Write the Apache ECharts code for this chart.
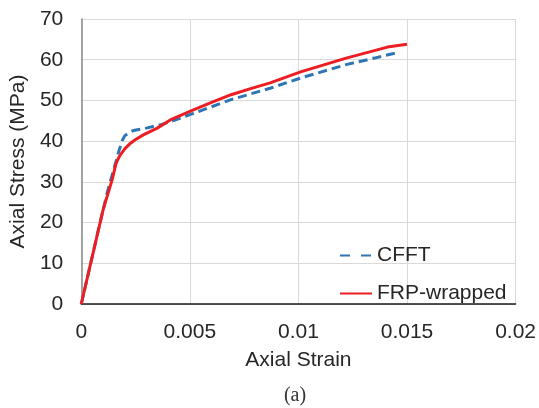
<!DOCTYPE html>
<html>
<head>
<meta charset="utf-8">
<script src="https://cdn.jsdelivr.net/npm/echarts@6/dist/echarts.min.js"></script>
<style>html,body{margin:0;padding:0;background:#fff}#c{width:539px;height:408px}</style>
</head>
<body>
<div id="c"></div>
<script>
const xTicks = [0, 0.005, 0.01, 0.015, 0.02];
const yTicks = [0, 10, 20, 30, 40, 50, 60, 70];
const seriesNames = ['CFFT', 'FRP-wrapped'];
const cfftStrain = [0, 0.0004, 0.0008, 0.0012, 0.0016, 0.0017, 0.0018, 0.0019, 0.0020, 0.0022, 0.0024, 0.0030, 0.0037, 0.0041, 0.0050, 0.0069, 0.0087, 0.0101, 0.0122, 0.0135, 0.0146];
const cfftStress = [0, 9.2, 18.5, 27.5, 35, 37.0, 38.7, 40.3, 41.3, 42.1, 42.6, 43.2, 44.1, 44.8, 46.5, 50.2, 53.0, 55.5, 58.8, 60.4, 61.8];
const frpStrain = [0, 0.0005, 0.0010, 0.00142, 0.0016, 0.0017, 0.00181, 0.0020, 0.00227, 0.0025, 0.00288, 0.0035, 0.0041, 0.0050, 0.0060, 0.0069, 0.0078, 0.0087, 0.0101, 0.0122, 0.0141, 0.0150];
const frpStress = [0, 11.5, 23, 30.5, 34.5, 35.7, 36.7, 38.1, 39.5, 40.4, 41.6, 43.2, 45.2, 47.3, 49.5, 51.4, 52.9, 54.3, 57.0, 60.4, 63.1, 63.8];

const pair = (xs, ys) => xs.map((x, i) => [x, ys[i]]);
const font = 'Liberation Sans, Arial, sans-serif';
const chart = echarts.init(document.getElementById('c'), null, {renderer: 'canvas'});
chart.setOption({
  animation: false,
  backgroundColor: '#fff',
  grid: {left: 81, right: 23, top: 19, bottom: 104},
  legend: {
    orient: 'vertical', left: 334, top: 240, itemWidth: 32, itemHeight: 14, itemGap: 17,
    data: [{name: seriesNames[0], lineStyle: {type: [10, 11]}}, {name: seriesNames[1]}],
    itemStyle: {color: 'transparent', borderWidth: 0, opacity: 0},
    textStyle: {fontFamily: font, fontSize: 21, color: '#262626'}
  },
  xAxis: {
    type: 'value', min: xTicks[0], max: xTicks[xTicks.length - 1], interval: 0.005,
    name: 'Axial Strain', nameLocation: 'middle', nameGap: 46,
    nameTextStyle: {fontFamily: font, fontSize: 21, color: '#262626'},
    axisLine: {lineStyle: {color: '#1a1a1a', width: 1.5}},
    axisTick: {show: false},
    axisLabel: {fontFamily: font, fontSize: 21, color: '#262626', margin: 18,
      formatter: v => String(+v.toFixed(3))},
    splitLine: {show: true, lineStyle: {color: '#d9d9d9', width: 1}}
  },
  yAxis: {
    type: 'value', min: yTicks[0], max: yTicks[yTicks.length - 1], interval: 10,
    name: 'Axial Stress (MPa)', nameLocation: 'middle', nameGap: 48,
    nameTextStyle: {fontFamily: font, fontSize: 21, color: '#262626'},
    axisLine: {show: true, lineStyle: {color: '#8a8a8a', width: 1.5}},
    axisTick: {show: false},
    axisLabel: {fontFamily: font, fontSize: 21, color: '#262626', margin: 18},
    splitLine: {show: true, lineStyle: {color: '#d9d9d9', width: 1}}
  },
  graphic: [{
    type: 'text', x: 295, y: 396,
    style: {text: '(a)', fontFamily: 'Liberation Serif, Times New Roman, serif', fontSize: 20, fill: '#333', align: 'center', verticalAlign: 'middle'}
  }],
  series: [
    {name: seriesNames[0], type: 'line', data: pair(cfftStrain, cfftStress), showSymbol: false, symbol: 'none',
      lineStyle: {color: '#2E75B6', width: 3, type: [9, 5]}, itemStyle: {color: '#2E75B6'}},
    {name: seriesNames[1], type: 'line', data: pair(frpStrain, frpStress), showSymbol: false, symbol: 'none',
      lineStyle: {color: '#EE1D23', width: 3}, itemStyle: {color: '#EE1D23'}}
  ]
});
</script>
</body>
</html>
